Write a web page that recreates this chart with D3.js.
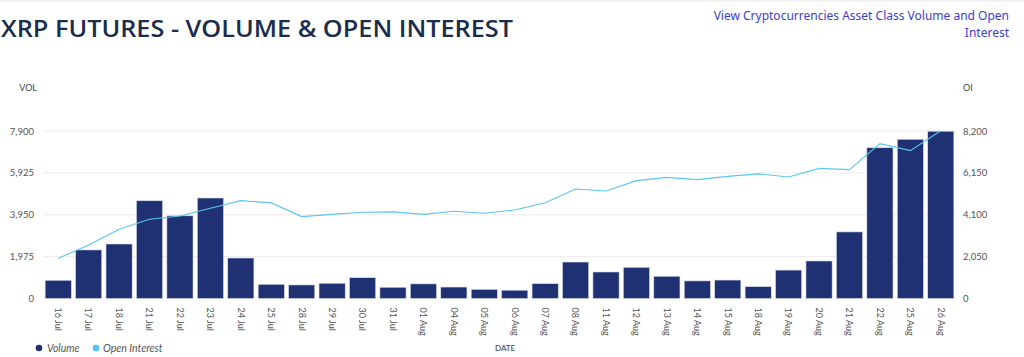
<!DOCTYPE html>
<html><head><meta charset="utf-8">
<script src="https://cdn.jsdelivr.net/npm/d3@7"></script>
<style>
html,body{margin:0;padding:0;background:#fff;}
svg{display:block;}
</style></head>
<body>
<svg id="c" width="1024" height="357"></svg>
<script>
const categories = ["16 Jul","17 Jul","18 Jul","21 Jul","22 Jul","23 Jul","24 Jul","25 Jul","28 Jul","29 Jul","30 Jul","31 Jul","01 Aug","04 Aug","05 Aug","06 Aug","07 Aug","08 Aug","11 Aug","12 Aug","13 Aug","14 Aug","15 Aug","18 Aug","19 Aug","20 Aug","21 Aug","22 Aug","25 Aug","26 Aug"];
const volume = [860,2290,2570,4610,3900,4740,1910,670,640,720,980,530,690,540,430,390,700,1720,1250,1470,1050,830,870,560,1340,1770,3140,7110,7510,7890];
const openInterest = [1970,2620,3390,3880,4040,4420,4790,4680,4010,4120,4220,4240,4120,4270,4170,4330,4690,5360,5260,5770,5930,5820,5980,6100,5950,6370,6310,7580,7240,8210];
const volTicks = [0,1975,3950,5925,7900];
const oiTicks = [0,2050,4100,6150,8200];

const svg = d3.select("#c");
const L = 43, R = 956, T = 131, B = 298.5;

svg.append("rect").attr("x",0).attr("y",0).attr("width",1024).attr("height",2).attr("fill","#f2f2f2");

svg.append("text").attr("x",1).attr("y",37).attr("font-family","Open Sans, sans-serif")
  .attr("font-weight",600).attr("font-size",24).attr("fill","#1a2d4c")
  .attr("textLength",512).attr("lengthAdjust","spacingAndGlyphs")
  .text("XRP FUTURES - VOLUME & OPEN INTEREST");

const link = svg.append("g").attr("font-family","Noto Sans, sans-serif").attr("font-size",12).attr("fill","#3c3cd4").attr("text-anchor","end");
link.append("text").attr("x",1009).attr("y",20).text("View Cryptocurrencies Asset Class Volume and Open");
link.append("text").attr("x",1009).attr("y",37).text("Interest");

const x = d3.scaleBand().domain(categories).range([L,R]).paddingInner(0.14).paddingOuter(0.07);
const yV = d3.scaleLinear().domain([0,7900]).range([B,T]);
const yO = d3.scaleLinear().domain([0,8200]).range([B,T]);

// gridlines
svg.append("g").selectAll("line").data(volTicks.filter(d=>d>0)).join("line")
  .attr("x1",L).attr("x2",R).attr("y1",d=>yV(d)).attr("y2",d=>yV(d))
  .attr("stroke","#ececec").attr("stroke-width",1);

const fmt = d3.format(",");
const axL = svg.append("g").attr("transform",`translate(${L},0)`)
  .call(d3.axisLeft(yV).tickValues(volTicks).tickFormat(fmt).tickSize(0).tickPadding(9));
const axR = svg.append("g").attr("transform",`translate(${R},0)`)
  .call(d3.axisRight(yO).tickValues(oiTicks).tickFormat(fmt).tickSize(0).tickPadding(7));
[axL,axR].forEach(a=>{a.select(".domain").remove();
  a.selectAll("text").attr("font-family","Lato, sans-serif").attr("font-size",9.5).attr("fill","#555");});

svg.append("text").attr("x",37).attr("y",91).attr("text-anchor","end").attr("font-family","Lato, sans-serif").attr("font-size",9).attr("fill","#444").text("VOL");
svg.append("text").attr("x",963).attr("y",91).attr("font-family","Lato, sans-serif").attr("font-size",9).attr("fill","#444").text("OI");

// bars
svg.append("g").selectAll("rect").data(volume).join("rect")
  .attr("x",(d,i)=>x(categories[i])).attr("width",x.bandwidth())
  .attr("y",d=>yV(d)).attr("height",d=>B-yV(d))
  .attr("fill","#1f3172").attr("stroke","#d6dbe8").attr("stroke-width",0.6);

// OI line
const line = d3.line().x((d,i)=>x(categories[i])+x.bandwidth()/2).y(d=>yO(d));
svg.append("path").datum(openInterest).attr("d",line).attr("fill","none")
  .attr("stroke","#5cc6ee").attr("stroke-width",1.1);

// x labels
const axB = svg.append("g").attr("transform",`translate(0,${B})`)
  .call(d3.axisBottom(x).tickSize(0).tickPadding(0));
axB.select(".domain").remove();
axB.selectAll("text").attr("font-family","Lato, sans-serif").attr("font-size",9).attr("fill","#555")
  .attr("text-anchor","start").attr("dy","0.35em").attr("y",0)
  .attr("transform","translate(0,9) rotate(90)");

// legend
const lg = svg.append("g").attr("font-family","Lato, sans-serif").attr("font-style","italic").attr("font-size",10.5).attr("fill","#555");
lg.append("circle").attr("cx",39).attr("cy",348).attr("r",3.3).attr("fill","#1f3172");
lg.append("text").attr("x",47).attr("y",352).text("Volume");
lg.append("circle").attr("cx",96).attr("cy",348).attr("r",3.3).attr("fill","#4fc3f7");
lg.append("text").attr("x",103).attr("y",352).text("Open Interest");

svg.append("text").attr("x",495).attr("y",351).attr("font-family","Lato, sans-serif").attr("font-size",8).attr("font-weight",600).attr("fill","#555").text("DATE");
</script>
</body></html>
